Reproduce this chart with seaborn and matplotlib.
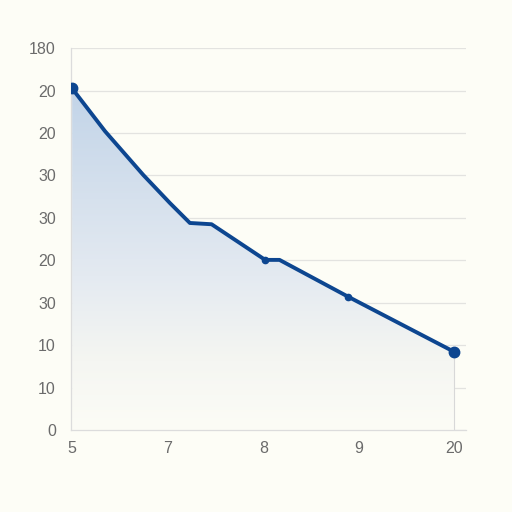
import numpy as np
import pandas as pd
import matplotlib
matplotlib.use("Agg")
import matplotlib.pyplot as plt
import seaborn as sns
from matplotlib.colors import LinearSegmentedColormap

# values (x in category slots, y in grid units)
x_vals = [0.0, 0.345, 0.745, 1.023, 1.232, 1.459, 2.02, 2.17, 2.89, 4.0]
y_vals = [8.05, 7.04, 6.01, 5.35, 4.88, 4.85, 4.01, 4.01, 3.14, 1.84]
big_idx = [0, 9]
small_idx = [6, 8]
x_ticks = [0, 1, 2, 3, 4]
x_labels = ["5", "7", "8", "9", "20"]
y_ticks = list(range(10))
y_labels = ["0", "10", "10", "30", "20", "30", "30", "20", "20", "180"]

df = pd.DataFrame({"x": x_vals, "y": y_vals})

sns.set_style("white")
plt.rcParams["font.family"] = ["Liberation Sans", "DejaVu Sans"]
bg = "#fdfdf6"
line_c = "#0d4690"
fig = plt.figure(figsize=(5.12, 5.12), dpi=100, facecolor=bg)
ax = fig.add_axes([0.139, 0.160, 0.771, 0.746])
ax.set_facecolor(bg)

ax.set_xlim(-0.01, 4.12)
ax.set_ylim(0, 9)

# gradient fill under the line
cmap = LinearSegmentedColormap.from_list(
    "g", [(0, "#fcfcf6"), (0.2, "#f5f6f2"), (0.45, "#e4eaf1"), (1, "#c2d4e8")])
grad = np.linspace(0, 1, 256).reshape(-1, 1)
im = ax.imshow(grad, cmap=cmap, origin="lower", aspect="auto",
               extent=[0, 4.0, 0, max(y_vals)], zorder=1)
poly = ax.fill_between(df["x"], df["y"], 0, color="none")
im.set_clip_path(poly.get_paths()[0], transform=ax.transData)

sns.lineplot(data=df, x="x", y="y", ax=ax, color=line_c, linewidth=2.8,
             zorder=3, sort=False)
ax.plot(df["x"].iloc[big_idx], df["y"].iloc[big_idx], "o", color=line_c,
        markersize=7.5, zorder=4)
ax.plot(df["x"].iloc[small_idx], df["y"].iloc[small_idx], "o", color=line_c,
        markersize=4.5, zorder=4)
ax.vlines(x_vals[-1], 0, y_vals[-1], color="#d8d8d8", linewidth=0.8, zorder=2)

ax.set_yticks(y_ticks)
ax.set_yticklabels(y_labels)
ax.set_xticks(x_ticks)
ax.set_xticklabels(x_labels)
ax.grid(axis="y", color="#e3e3e0", linewidth=0.9)
ax.set_axisbelow(True)
ax.tick_params(axis="both", length=0, colors="#6b6b6b", labelsize=11.5)
ax.tick_params(axis="y", pad=11)
ax.tick_params(axis="x", pad=8)
ax.set_xlabel("")
ax.set_ylabel("")
for s in ["top", "right"]:
    ax.spines[s].set_visible(False)
for s in ["left", "bottom"]:
    ax.spines[s].set_color("#dcdcdc")
    ax.spines[s].set_linewidth(0.9)

fig.savefig("out.png", dpi=100, facecolor=bg)
